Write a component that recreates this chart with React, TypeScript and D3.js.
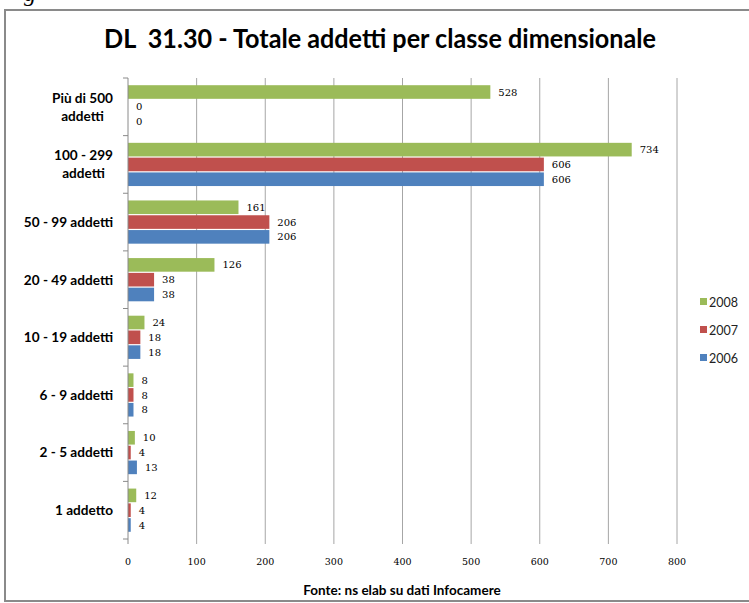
import React, { useEffect, useRef } from 'react';
import * as d3 from 'd3';

// categories from top to bottom, "\n" marks where the label wraps
const categories = [
  'Più di 500\naddetti',
  '100 - 299\naddetti',
  '50 - 99 addetti',
  '20 - 49 addetti',
  '10 - 19 addetti',
  '6 - 9 addetti',
  '2 - 5 addetti',
  '1 addetto',
];
const years = ['2008', '2007', '2006'];
const values2008 = [528, 734, 161, 126, 24, 8, 10, 12];
const values2007 = [0, 606, 206, 38, 18, 8, 4, 4];
const values2006 = [0, 606, 206, 38, 18, 8, 13, 4];
const xTicks = [0, 100, 200, 300, 400, 500, 600, 700, 800];
const colors = ['#9BBB59', '#C0504D', '#4F81BD'];

const title = 'DL  31.30 - Totale addetti per classe dimensionale';
const source = 'Fonte: ns elab su dati Infocamere';

const App = () => {
  const ref = useRef<SVGSVGElement>(null);

  useEffect(() => {
    const svg = d3.select(ref.current);
    svg.selectAll('*').remove();

    const series = [values2008, values2007, values2006];

    // bit of the caption above the chart, cut by the top edge
    svg
      .append('text')
      .attr('x', 24)
      .attr('y', 1)
      .attr('font-family', 'Liberation Serif')
      .attr('font-style', 'italic')
      .attr('font-size', 24)
      .text('g');

    // chart frame
    svg
      .append('rect')
      .attr('x', 5)
      .attr('y', 10)
      .attr('width', 760)
      .attr('height', 591)
      .attr('fill', '#fff')
      .attr('stroke', '#8a8a8a')
      .attr('stroke-width', 2);

    svg
      .append('text')
      .attr('x', 380)
      .attr('y', 48)
      .attr('text-anchor', 'middle')
      .attr('font-family', 'Lato')
      .attr('font-weight', 'bold')
      .attr('font-size', 26)
      .attr('textLength', 552)
      .attr('lengthAdjust', 'spacingAndGlyphs')
      .style('white-space', 'pre')
      .text(title);

    const plotTop = 78;
    const plotBottom = 539;

    const x = d3.scaleLinear().domain([0, 800]).range([128, 677]);
    const y = d3
      .scaleBand()
      .domain(categories)
      .range([plotTop, plotBottom])
      .paddingInner(0.25)
      .paddingOuter(0.125);
    const ySub = d3
      .scaleBand()
      .domain(years)
      .range([0, y.bandwidth()])
      .paddingInner(0.08);

    const step = y.step();

    // gridlines (with the small tick below the plot)
    svg
      .append('g')
      .selectAll('line')
      .data(xTicks.filter(t => t > 0))
      .enter()
      .append('line')
      .attr('x1', d => x(d))
      .attr('x2', d => x(d))
      .attr('y1', plotTop)
      .attr('y2', plotBottom + 5)
      .attr('stroke', '#a6a6a6')
      .attr('stroke-width', 1);

    // bars
    series.forEach((vals, si) => {
      const g = svg.append('g');
      g.selectAll('rect')
        .data(vals)
        .enter()
        .append('rect')
        .attr('x', x(0))
        .attr('y', (d, i) => (y(categories[i]) as number) + (ySub(years[si]) as number))
        .attr('width', d => x(d) - x(0))
        .attr('height', ySub.bandwidth())
        .attr('fill', colors[si]);

      g.selectAll('text')
        .data(vals)
        .enter()
        .append('text')
        .attr('x', d => x(d) + 8)
        .attr('y', (d, i) => (y(categories[i]) as number) + (ySub(years[si]) as number) + ySub.bandwidth() / 2)
        .attr('dy', '0.36em')
        .attr('font-family', 'DejaVu Serif')
        .attr('font-size', 10)
        .attr('fill', '#000')
        .text(d => d);
    });

    // category axis
    svg
      .append('line')
      .attr('x1', x(0))
      .attr('x2', x(0))
      .attr('y1', plotTop)
      .attr('y2', plotBottom + 5)
      .attr('stroke', '#8a8a8a');

    svg
      .append('g')
      .selectAll('line')
      .data(d3.range(categories.length + 1))
      .enter()
      .append('line')
      .attr('x1', x(0) - 5)
      .attr('x2', x(0))
      .attr('y1', d => plotTop + d * step)
      .attr('y2', d => plotTop + d * step)
      .attr('stroke', '#8a8a8a');

    const labelRight = 113;
    categories.forEach(c => {
      const lines = c.split('\n');
      const cy = (y(c) as number) + y.bandwidth() / 2;
      const t = svg
        .append('text')
        .attr('font-family', 'Lato')
        .attr('font-weight', 'bold')
        .attr('font-size', 13.6)
        .attr('fill', '#000');
      if (lines.length === 1) {
        t.attr('x', labelRight)
          .attr('y', cy)
          .attr('dy', '0.36em')
          .attr('text-anchor', 'end')
          .text(c);
      } else {
        const spans = lines.map((l, i) =>
          t
            .append('tspan')
            .attr('y', cy + (i - (lines.length - 1) / 2) * 18)
            .attr('dy', '0.36em')
            .text(l)
        );
        const w = d3.max(spans, s => (s.node() as SVGTSpanElement).getComputedTextLength()) || 0;
        t.attr('text-anchor', 'middle');
        spans.forEach(s => s.attr('x', labelRight - w / 2));
      }
    });

    // value axis labels
    svg
      .append('g')
      .selectAll('text')
      .data(xTicks)
      .enter()
      .append('text')
      .attr('x', d => x(d))
      .attr('y', 565)
      .attr('text-anchor', 'middle')
      .attr('font-family', 'DejaVu Serif')
      .attr('font-size', 9.5)
      .attr('fill', '#000')
      .text(d => d);

    // legend
    const legend = svg
      .append('g')
      .selectAll('g')
      .data(years)
      .enter()
      .append('g')
      .attr('transform', (d, i) => `translate(700, ${302 + i * 28})`);
    legend
      .append('rect')
      .attr('x', 0)
      .attr('y', -4)
      .attr('width', 7)
      .attr('height', 7)
      .attr('fill', (d, i) => colors[i]);
    legend
      .append('text')
      .attr('x', 9)
      .attr('y', 0)
      .attr('dy', '0.36em')
      .attr('font-family', 'Lato')
      .attr('font-size', 12.5)
      .attr('fill', '#222')
      .text(d => d);

    svg
      .append('text')
      .attr('x', 402)
      .attr('y', 595)
      .attr('text-anchor', 'middle')
      .attr('font-family', 'Lato')
      .attr('font-weight', 'bold')
      .attr('font-size', 13.5)
      .attr('fill', '#000')
      .text(source);
  }, []);

  return (
    <svg
      ref={ref}
      width={749}
      height={603}
      style={{ position: 'absolute', left: 0, top: 0, background: '#fff' }}
    />
  );
};

export default App;
